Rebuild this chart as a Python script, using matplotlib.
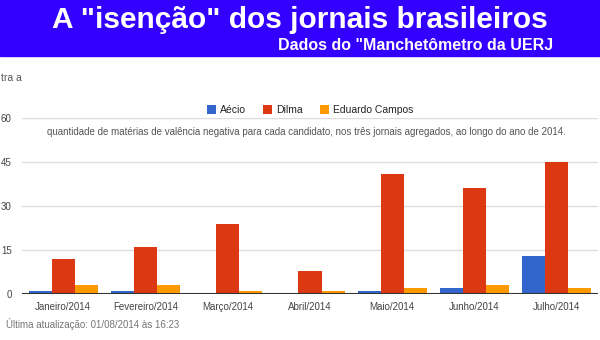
import matplotlib
matplotlib.use("Agg")
import matplotlib.pyplot as plt
import numpy as np
from matplotlib.patches import Rectangle

months = ["Janeiro/2014", "Fevereiro/2014", "Março/2014", "Abril/2014",
          "Maio/2014", "Junho/2014", "Julho/2014"]
aecio = [1, 1, 0, 0, 1, 2, 13]
dilma = [12, 16, 24, 8, 41, 36, 45]
eduardo = [3, 3, 1, 1, 2, 3, 2]
yticks = [0, 15, 30, 45, 60]

series = [("Aécio", aecio, "#3366CC"),
          ("Dilma", dilma, "#DC3912"),
          ("Eduardo Campos", eduardo, "#FF9900")]

W, H = 600, 340
fig = plt.figure(figsize=(6, 3.4), dpi=100)
plt.rcParams['font.family'] = ['Liberation Sans', 'DejaVu Sans']

# banner
fig.patches.append(Rectangle((0, 1 - 56 / H), 1, 56 / H, transform=fig.transFigure,
                             color="#3300FF", zorder=0))
fig.text(300 / W, 1 - 20 / H, 'A "isenção" dos jornais brasileiros', color="white",
         fontsize=21.5, fontweight="bold", ha="center", va="center")
fig.text(553 / W, 1 - 46 / H, 'Dados do "Manchetômetro da UERJ', color="white",
         fontsize=11.5, fontweight="bold", ha="right", va="center")

ax = fig.add_axes([22 / W, 46 / H, 576 / W, 176 / H])
x = np.arange(len(months))
bw = 0.28
for i, (name, vals, col) in enumerate(series):
    ax.bar(x + (i - 1) * bw, vals, bw, color=col, label=name, zorder=3,
           edgecolor="none")

ax.set_xlim(-0.5, len(months) - 0.5)
ax.set_ylim(0, 60)
ax.set_yticks(yticks)
ax.set_xticks(x)
ax.set_xticklabels(months)
ax.tick_params(axis="both", length=0, labelsize=7, labelcolor="#444444")
ax.tick_params(axis="y", pad=7.5)
ax.tick_params(axis="x", pad=6)
for t in yticks[1:]:
    ax.axhline(t, color="#dddddd", lw=1, zorder=1)
ax.axhline(0, color="#333333", lw=1.5, zorder=4)
for s in ax.spines.values():
    s.set_visible(False)

# legend
ax.legend(loc="center", bbox_to_anchor=(310 / W, 1 - 110 / H), bbox_transform=fig.transFigure,
          ncol=3, frameon=False, fontsize=7.5, handlelength=0.9, handleheight=0.9,
          handletextpad=0.4, columnspacing=1.6, labelcolor="#222222")

fig.text(306 / W, 1 - 132 / H,
         "quantidade de matérias de valência negativa para cada candidato, nos três jornais agregados, ao longo do ano de 2014.",
         fontsize=7.0, color="#555555", ha="center", va="center")
fig.text(1 / W, 1 - 78 / H, "tra a", fontsize=7.5, color="#555555", ha="left", va="center")
fig.text(6 / W, 1 - 324 / H, "Última atualização: 01/08/2014 às 16:23",
         fontsize=7, color="#777777", ha="left", va="center")

fig.savefig("out.png", dpi=100)
